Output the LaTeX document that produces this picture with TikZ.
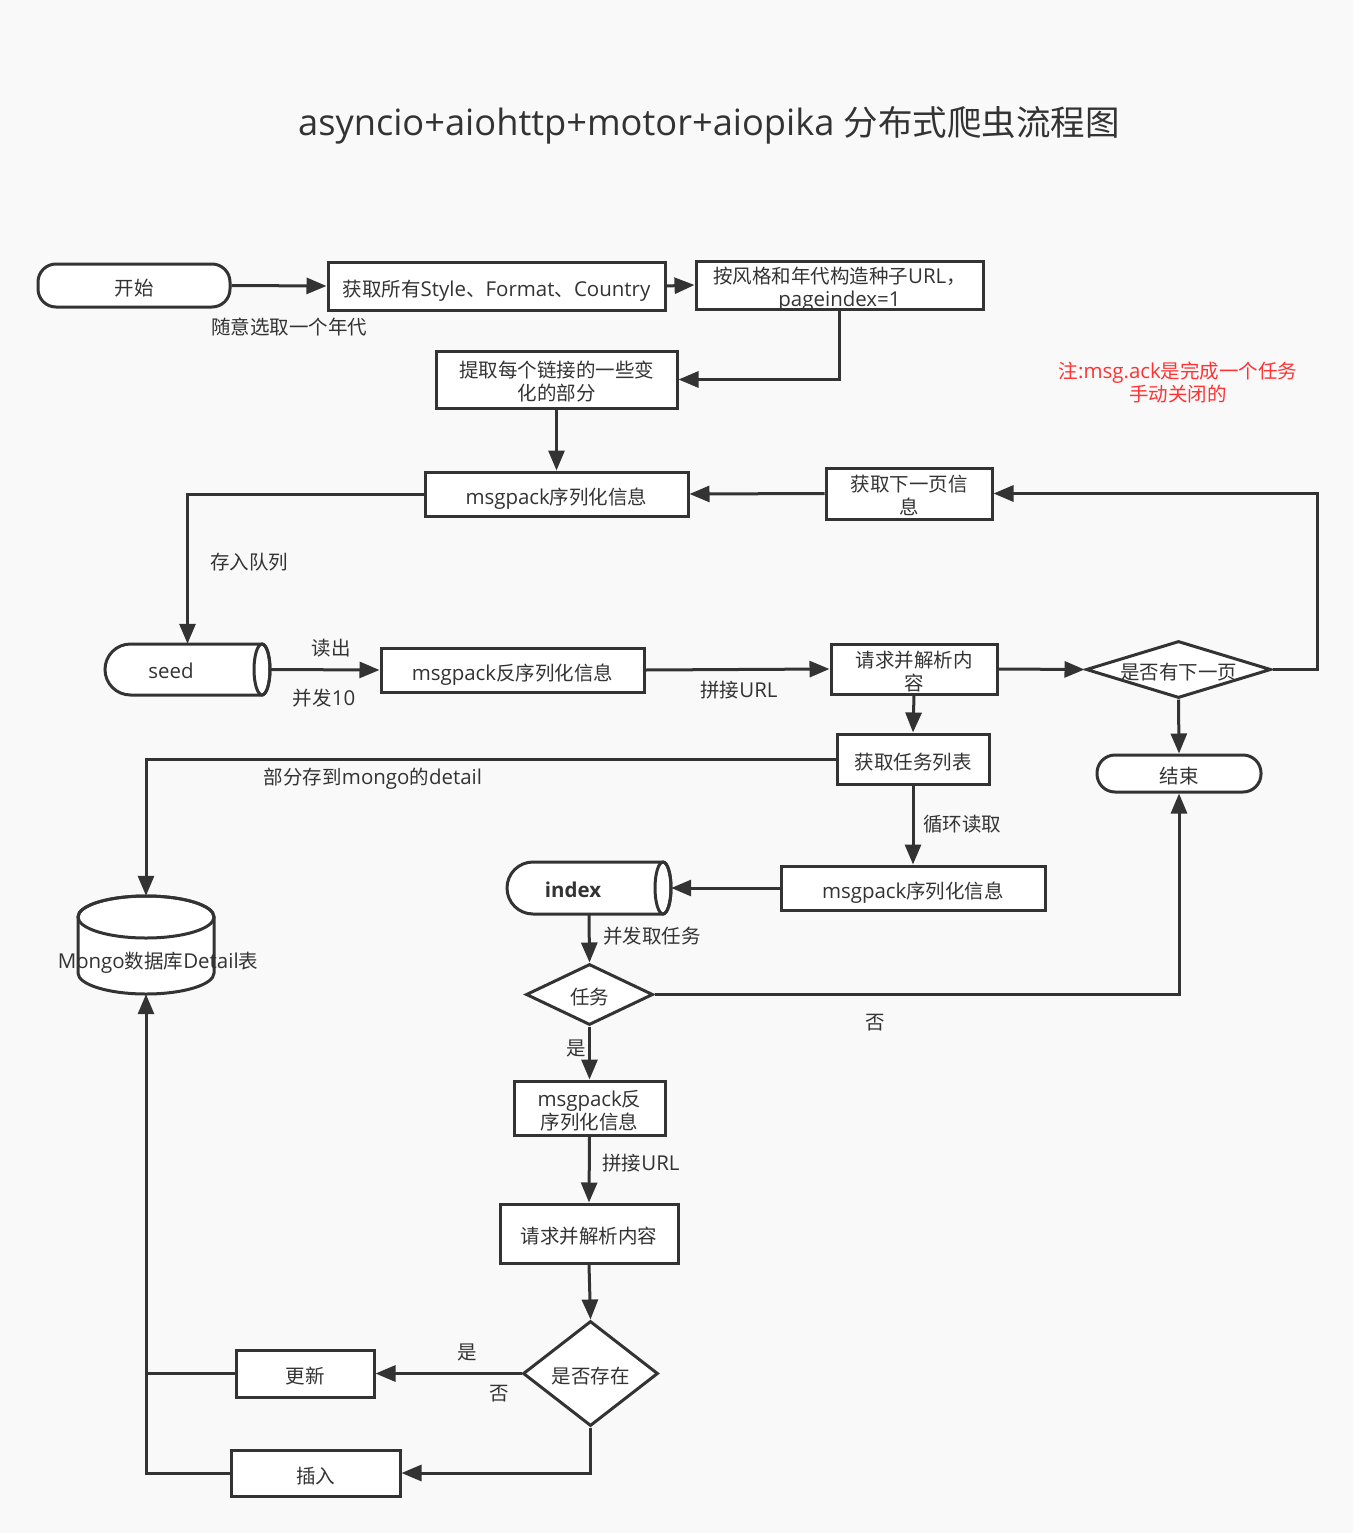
\documentclass[tikz,border=0pt]{standalone}
\usepackage{fontspec}
\setmainfont{Open Sans}[Scale=1.05]
\newfontfamily\cjkf{Noto Sans CJK SC}
\newfontfamily\latf{Open Sans}[Scale=1.05]
\usetikzlibrary{arrows.meta,shapes.geometric}
\XeTeXinterchartokenstate=1
\newXeTeXintercharclass\CJKclass
\newcount\cjkcnt
\cjkcnt="2E80
\loop \XeTeXcharclass\cjkcnt=\CJKclass \ifnum\cjkcnt<"9FFF \advance\cjkcnt by 1 \repeat
\cjkcnt="FF00
\loop \XeTeXcharclass\cjkcnt=\CJKclass \ifnum\cjkcnt<"FFEF \advance\cjkcnt by 1 \repeat
\XeTeXinterchartoks 0 \CJKclass={\cjkf}
\XeTeXinterchartoks 4095 \CJKclass={\cjkf}
\XeTeXinterchartoks \CJKclass 0={\latf}
\definecolor{ln}{HTML}{333333}
\definecolor{bg}{HTML}{F9F9F9}
\definecolor{note}{HTML}{FF3333}
\begin{document}
\begin{tikzpicture}[x=1pt,y=-1pt,
  every node/.style={font=\fontsize{19.5}{23}\selectfont, text=ln},
  basebox/.style={draw=ln, line width=3pt, fill=white, inner sep=0pt, align=center},
  box/.style={basebox, text height=20pt, text depth=0pt},
  box2/.style={basebox, text height=42pt, text depth=0pt},
  term/.style={box, rounded corners=18pt},
  dia/.style={diamond, draw=ln, line width=3pt, fill=white, inner sep=0pt},
  ghost/.style={draw=none, inner sep=0pt},
  conn/.style={draw=ln, line width=3pt, -{Triangle[length=20pt,width=16pt]}},
  plain/.style={draw=ln, line width=3pt},
  lbl/.style={inner sep=0pt},
]
\fill[bg] (0,0) rectangle (1353,1533);
\useasboundingbox (0,0) rectangle (1353,1533);

% title
\node[lbl, font=\fontsize{34.5}{40}\selectfont] (title) at (709,125) {asyncio+aiohttp+motor+aiopika 分布式爬虫流程图};
\node[lbl, text=note, align=center] (note) at (1178,382) {注:msg.ack是完成一个任务\\手动关闭的};

% nodes
\node[term, minimum width=192pt, minimum height=43pt] (n1) at (134,285.5) {开始};
\node[box, minimum width=337pt, minimum height=48pt] (n2) at (496.5,286) {获取所有Style、Format、Country};
\node[box2, minimum width=287pt, minimum height=48pt] (n3) at (839.5,285) {按风格和年代构造种子URL，\\pageindex=1};
\node[box2, minimum width=241pt, minimum height=57pt] (n4) at (556.5,379.5) {提取每个链接的一些变\\化的部分};
\node[box, minimum width=263pt, minimum height=44pt] (n5) at (556.5,494) {msgpack序列化信息};
\node[box2, minimum width=166pt, minimum height=51pt] (n6) at (909,493.5) {获取下一页信\\息};

% seed cylinder
\node[ghost, minimum width=165pt, minimum height=51pt] (seed) at (187.5,669.5) {};
\draw[plain, fill=white] (262,644) -- (130.5,644) arc[start angle=270, end angle=90, radius=25.5]
  -- (262,695) arc[start angle=90, end angle=-90, x radius=8, y radius=25.5] -- cycle;
\draw[plain] (262,669.5) ellipse[x radius=8, y radius=25.5];
\node[lbl] (seedt) at (171,671) {seed};

\node[box, minimum width=263pt, minimum height=44pt] (n7) at (512.5,670) {msgpack反序列化信息};
\node[box2, minimum width=166pt, minimum height=50pt] (n8) at (914,669) {请求并解析内\\容};
\node[dia, minimum width=185pt, minimum height=57pt] (d1) at (1178.5,669.5) {};
\node[lbl] (d1t) at (1178.5,672) {是否有下一页};
\node[box, minimum width=152pt, minimum height=50pt] (n9) at (913,759) {获取任务列表};
\node[term, minimum width=164pt, minimum height=37pt] (end) at (1179,773.5) {结束};
\node[box, minimum width=264pt, minimum height=44pt] (n10) at (913,888) {msgpack序列化信息};

% index cylinder
\node[ghost, minimum width=164pt, minimum height=52pt] (index) at (589,888) {};
\draw[plain, fill=white] (663,862) -- (533,862) arc[start angle=270, end angle=90, radius=26]
  -- (663,914) arc[start angle=90, end angle=-90, x radius=8, y radius=26] -- cycle;
\draw[plain] (663,888) ellipse[x radius=8, y radius=26];
\node[lbl, font=\fontsize{19.5}{23}\selectfont\bfseries] (indext) at (573,890) {index};

% mongo cylinder
\node[ghost, minimum width=136pt, minimum height=98pt] (mongo) at (146,945) {};
\draw[plain, fill=white] (78,917) -- (78,973) arc[start angle=180, end angle=0, x radius=68, y radius=21]
  -- (214,917) arc[start angle=0, end angle=-180, x radius=68, y radius=21] -- cycle;
\draw[plain] (146,917) ellipse[x radius=68, y radius=21];
\node[lbl] (mongot) at (158,963) {Mongo数据库Detail表};

\node[dia, minimum width=127pt, minimum height=61pt] (d2) at (589.5,994.5) {};
\node[lbl] (d2t) at (589.5,997) {任务};
\node[box2, minimum width=151pt, minimum height=54pt] (n11) at (589.5,1108) {msgpack反\\序列化信息};
\node[box, minimum width=178pt, minimum height=59pt] (n12) at (589,1233.5) {请求并解析内容};
\node[dia, minimum width=135pt, minimum height=105pt] (d3) at (590.5,1373.5) {};
\node[lbl] (d3t) at (590.5,1376) {是否存在};
\node[box, minimum width=138pt, minimum height=47pt] (n13) at (305,1373.5) {更新};
\node[box, minimum width=169pt, minimum height=46pt] (n14) at (315.5,1473) {插入};
\coordinate (j1) at (146,1373.5);

% connectors
\draw[conn] (n1.east) -- (n2.west);
\draw[conn] (n2.east) -- (n3.west);
\draw[conn] (n3.south) |- (n4.east);
\draw[conn] (n4.south) -- (n5.north);
\draw[conn] (n6.west) -- (n5.east);
\draw[conn] (n5.west) -| (seed.north);
\draw[conn] (seed.east) -- (n7.west);
\draw[conn] (n7.east) -- (n8.west);
\draw[conn] (n8.east) -- (d1.west);
\draw[conn] (d1.east) -- ++(45,0) |- (n6.east);
\draw[conn] (d1.south) -- (end.north);
\draw[conn] (n8.south) -- (n9.north);
\draw[conn] (n9.west) -| (mongo.north);
\draw[conn] (n9.south) -- (n10.north);
\draw[conn] (n10.west) -- (index.east);
\draw[conn] (index.south) -- (d2.north);
\draw[conn] (d2.east) -| (end.south);
\draw[conn] (d2.south) -- (n11.north);
\draw[conn] (n11.south) -- (n12.north);
\draw[conn] (n12.south) -- (d3.north);
\draw[conn] (d3.west) -- (n13.east);
\draw[conn] (d3.south) |- (n14.east);
\draw[plain] (n13.west) -- (j1);
\draw[conn] (n14.west) -| (mongo.south);

% labels
\node[lbl] (l1) at (289,327) {随意选取一个年代};
\node[lbl] (l2) at (249,562) {存入队列};
\node[lbl] (l3) at (331,648) {读出};
\node[lbl] (l4) at (324,698) {并发10};
\node[lbl] (l5) at (739,690) {拼接URL};
\node[lbl] (l6) at (373,779) {部分存到mongo的detail};
\node[lbl] (l7) at (962,824) {循环读取};
\node[lbl] (l8) at (652,936) {并发取任务};
\node[lbl] (l9) at (875,1023) {否};
\node[lbl] (l10) at (576,1048) {是};
\node[lbl] (l11) at (641,1163) {拼接URL};
\node[lbl] (l12) at (467,1352) {是};
\node[lbl] (l13) at (499,1394) {否};
\end{tikzpicture}
\end{document}
